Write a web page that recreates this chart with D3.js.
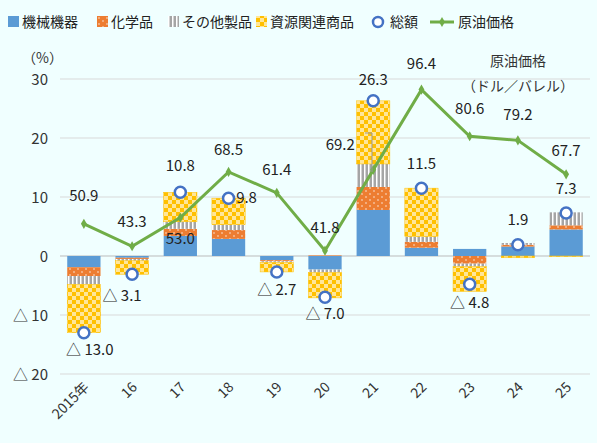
<!DOCTYPE html><html><head><meta charset="utf-8"><script src="https://cdn.jsdelivr.net/npm/d3@7"></script>
<style>body{margin:0;background:#F0FFFF;font-family:"Noto Sans CJK JP","Noto Sans",sans-serif}</style></head><body><svg id="c" width="597" height="443"></svg><script>
const years=["2015年","16","17","18","19","20","21","22","23","24","25"];
const machinery=[-1.9,-0.3,3.4,2.9,-0.7,-2.3,7.8,1.4,1.2,1.6,4.5];
const chemicals=[-1.5,-0.2,1.2,1.5,-0.2,0.1,3.9,1.0,-1.3,0.3,0.7];
const others=[-1.4,-0.3,1.2,0.9,-0.2,-0.5,3.9,0.9,-0.5,0.3,2.2];
const resources=[-8.2,-2.3,5.0,4.5,-1.6,-4.3,10.7,8.2,-4.2,-0.3,-0.1];
const totals=[-13.0,-3.1,10.8,9.8,-2.7,-7.0,26.3,11.5,-4.8,1.9,7.3];
const oil=[50.9,43.3,53.0,68.5,61.4,41.8,69.2,96.4,80.6,79.2,67.7];
const yTicks=[30,20,10,0,-10,-20];
const tOff=[[6,22],[-10,27],[0,-21],[18,5],[0,23],[0,22],[0,-16],[0,-19],[0,24],[0,-20],[0,-19]];
const oOff=[[0,-23],[0,-19],[0,26],[0,-17],[0,-18],[0,-18],[-33,-20],[0,-21],[0,-22],[0,-20],[0,-18]];
const svg=d3.select("#c");
const x=d3.scaleBand().domain(years).range([60,590]).paddingInner(0.31).paddingOuter(0.15);
const y=d3.scaleLinear().domain([-20,30]).range([374,79]);
const y2=d3.scaleLinear().domain([0,100]).range([374,79]);
const defs=svg.append("defs");
let p=defs.append("pattern").attr("id","pO").attr("width",8).attr("height",6).attr("patternUnits","userSpaceOnUse");
p.append("rect").attr("width",8).attr("height",6).attr("fill","#ED7D31");p.append("circle").attr("cx",2).attr("cy",2).attr("r",0.7).attr("fill","#fff");p.append("circle").attr("cx",6).attr("cy",5).attr("r",0.7).attr("fill","#fff");
p=defs.append("pattern").attr("id","pG").attr("width",4).attr("height",4).attr("patternUnits","userSpaceOnUse");
p.append("rect").attr("width",4).attr("height",4).attr("fill","#A5A5A5");p.append("rect").attr("width",1.5).attr("height",4).attr("fill","#fff");
p=defs.append("pattern").attr("id","pY").attr("width",8).attr("height",8).attr("patternUnits","userSpaceOnUse");
p.append("rect").attr("width",8).attr("height",8).attr("fill","#FFC000");p.append("rect").attr("width",4).attr("height",4).attr("fill","#FFE699");p.append("rect").attr("x",4).attr("y",4).attr("width",4).attr("height",4).attr("fill","#FFE699");
svg.append("g").selectAll("line").data(yTicks).join("line").attr("x1",60).attr("x2",590).attr("y1",d=>y(d)).attr("y2",d=>y(d)).attr("stroke",d=>d===0?"#bbb":"#d9d9d9");
svg.append("g").selectAll("text").data(yTicks).join("text").attr("x",48).attr("y",d=>y(d)+6).attr("text-anchor","end").attr("font-size",15).attr("fill","#333").text(d=>d<0?"△ "+(-d):d);
svg.append("text").attr("x",22).attr("y",63).attr("font-size",14).attr("fill","#333").text("（%）");
svg.append("text").attr("x",490).attr("y",66).attr("font-size",14).attr("fill","#333").text("原油価格");
svg.append("text").attr("x",462).attr("y",91).attr("font-size",14).attr("fill","#333").text("（ドル／バレル）");
const series=[[machinery,"#5B9BD5"],[chemicals,"url(#pO)"],[others,"url(#pG)"],[resources,"url(#pY)"]];
const bg=svg.append("g");
years.forEach((yr,i)=>{let pos=0,neg=0;series.forEach(([arr,f])=>{const v=arr[i];let a,b;if(v>=0){a=pos;b=pos+v;pos=b}else{a=neg;b=neg+v;neg=b}
bg.append("rect").attr("x",x(yr)).attr("width",x.bandwidth()).attr("y",y(Math.max(a,b))).attr("height",Math.abs(y(a)-y(b))).attr("fill",f).attr("stroke",f.includes("Y")?"#FFC000":"none").attr("stroke-width",0.5)})});
const cx=d=>x(d)+x.bandwidth()/2;
svg.append("path").datum(oil).attr("d",d3.line().x((d,i)=>cx(years[i])).y(d=>y2(d))).attr("fill","none").attr("stroke","#70AD47").attr("stroke-width",3);
svg.append("g").selectAll("path").data(oil).join("path").attr("d",d3.symbol(d3.symbolDiamond,30)).attr("transform",(d,i)=>`translate(${cx(years[i])},${y2(d)})`).attr("fill","#70AD47");
svg.append("line").attr("x1",365).attr("y1",133).attr("x2",372).attr("y2",133).attr("stroke","#999");
svg.append("line").attr("x1",372).attr("y1",133).attr("x2",372).attr("y2",172).attr("stroke","#999");
svg.append("g").selectAll("circle").data(totals).join("circle").attr("cx",(d,i)=>cx(years[i])).attr("cy",d=>y(d)).attr("r",5.5).attr("fill","#fff").attr("stroke","#4472C4").attr("stroke-width",2.5);
const fmt=d=>d<0?"△ "+(-d).toFixed(1):d.toFixed(1);
svg.append("g").selectAll("text").data(totals).join("text").attr("x",(d,i)=>cx(years[i])+tOff[i][0]).attr("y",(d,i)=>y(d)+tOff[i][1]).attr("text-anchor","middle").attr("font-size",15).attr("fill","#222").text(fmt);
svg.append("g").selectAll("text").data(oil).join("text").attr("x",(d,i)=>cx(years[i])+oOff[i][0]).attr("y",(d,i)=>y2(d)+oOff[i][1]).attr("text-anchor","middle").attr("font-size",15).attr("fill","#222").text(d=>d.toFixed(1));
svg.append("g").selectAll("text").data(years).join("text").attr("transform",d=>`translate(${cx(d)+6},${388}) rotate(-45)`).attr("text-anchor","end").attr("font-size",14).attr("fill","#333").text(d=>d);
const leg=[["機械機器","#5B9BD5","r"],["化学品","url(#pO)","r"],["その他製品","url(#pG)","r"],["資源関連商品","url(#pY)","r"],["総額","","c"],["原油価格","","l"]];
const lx=[8,97,168,256,370,430];
leg.forEach((l,i)=>{const g=svg.append("g").attr("transform",`translate(${lx[i]},22)`);
if(l[2]=="r")g.append("rect").attr("x",0).attr("y",-6).attr("width",11).attr("height",11).attr("fill",l[1]);
else if(l[2]=="c")g.append("circle").attr("cx",8).attr("cy",0).attr("r",5).attr("fill","#fff").attr("stroke","#4472C4").attr("stroke-width",2.5);
else{g.append("line").attr("x1",0).attr("x2",24).attr("stroke","#70AD47").attr("stroke-width",3);g.append("path").attr("d",d3.symbol(d3.symbolDiamond,30)).attr("transform","translate(12,0)").attr("fill","#70AD47");}
g.append("text").attr("x",l[2]=="r"?14:(l[2]=="c"?20:28)).attr("y",5).attr("font-size",14).attr("fill","#222").text(l[0]);});
</script></body></html>
